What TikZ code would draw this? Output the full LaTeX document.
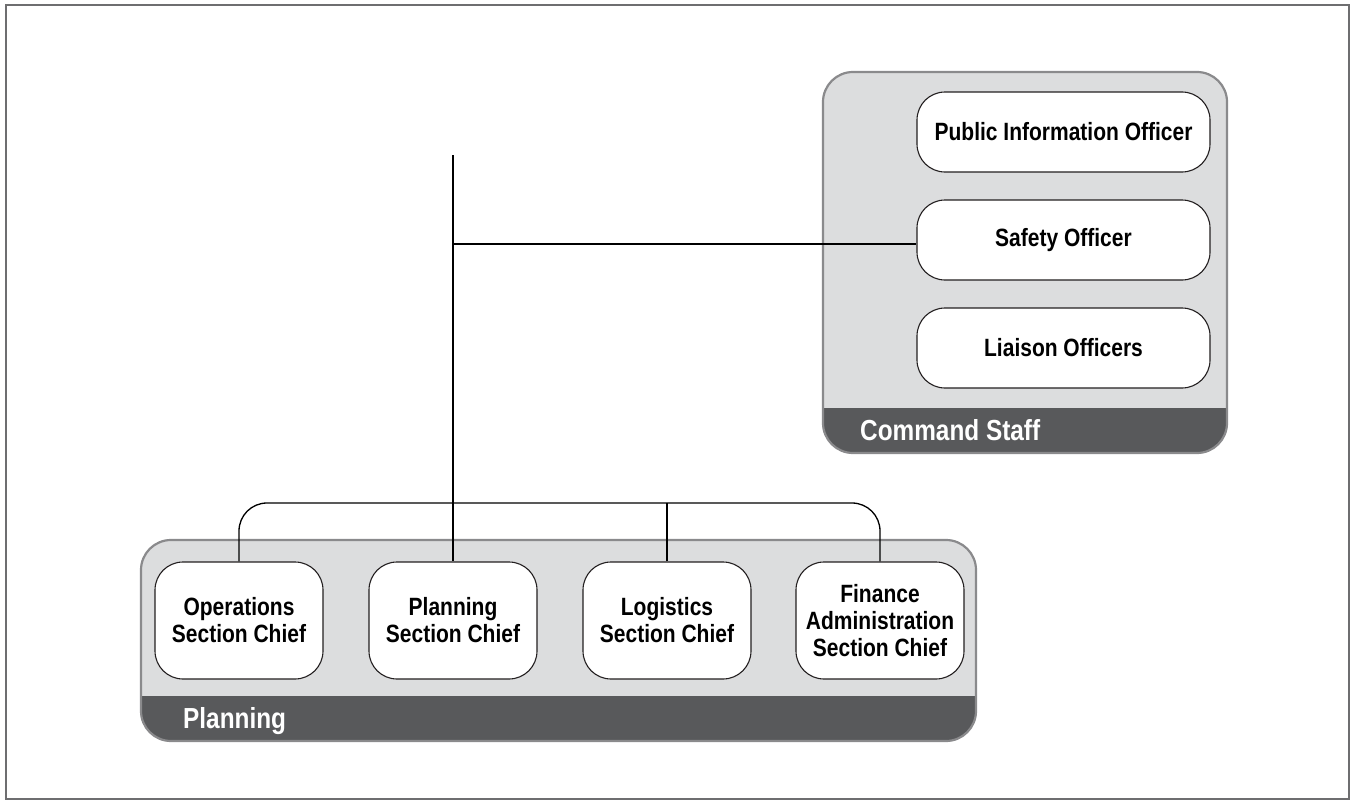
\documentclass[tikz,border=0pt]{standalone}
\usepackage{fontspec}
\setmainfont{Liberation Sans}[FakeStretch=0.84]
\begin{document}
\begin{tikzpicture}[x=1pt,y=-1pt,
  wbox/.style={draw=boxedge,fill=white,line width=1.1pt,rounded corners=28,
    align=center,font=\bfseries\fontsize{25}{27}\selectfont,inner sep=0pt},
  chief/.style={wbox,minimum width=168,minimum height=117},
  officer/.style={wbox,minimum width=293,minimum height=80},
  grouplabel/.style={text=white,font=\bfseries\fontsize{29}{30}\selectfont,anchor=base west,inner sep=0pt},
  groupedge/.style={draw=grpedge,line width=2.2pt,rounded corners=30},
  conn/.style={line width=1.3pt,draw=black}]
\definecolor{grpfill}{HTML}{DCDDDE}
\definecolor{grpedge}{HTML}{8A8A8C}
\definecolor{band}{HTML}{58595B}
\definecolor{boxedge}{HTML}{231F20}
\useasboundingbox (0,0) rectangle (1350,800);
\draw[draw=grpedge!80!black,line width=2pt] (6,5) rectangle (1349,799);
% Command staff group
\begin{scope}
  \clip[rounded corners=30] (823,72) rectangle (1227,453);
  \fill[grpfill] (823,72) rectangle (1227,453);
  \fill[band] (823,408) rectangle (1227,453);
\end{scope}
\draw[groupedge] (823,72) rectangle (1227,453);
\node[grouplabel] (cslabel) at (860,440) {Command Staff};
% Planning group
\begin{scope}
  \clip[rounded corners=30] (141,540) rectangle (976,741);
  \fill[grpfill] (141,540) rectangle (976,741);
  \fill[band] (141,696) rectangle (976,741);
\end{scope}
\draw[groupedge] (141,540) rectangle (976,741);
\node[grouplabel] (pllabel) at (183,728) {Planning};
% officers
\node[officer] (pio) at (1063.5,132) {Public Information Officer};
\node[officer] (safety) at (1063.5,240) {Safety Officer};
\node[officer] (liaison) at (1063.5,348) {Liaison Officers};
% chiefs
\node[chief] (ops) at (239,620.5) {Operations\\Section Chief};
\node[chief] (plan) at (453,620.5) {Planning\\Section Chief};
\node[chief] (log) at (667,620.5) {Logistics\\Section Chief};
\node[chief] (fin) at (880,620.5) {Finance\\Administration\\Section Chief};
% connectors
\coordinate (top) at (453,155);
\coordinate (junc) at (453,244);
\coordinate (busL) at (239,503);
\coordinate (busR) at (880,503);
\draw[conn] (top) -- (plan.north);
\draw[conn] (junc) -- (junc -| safety.west);
\draw[conn,rounded corners=28] (ops.north) -- (busL) -- (busR) -- (fin.north);
\draw[conn] (log.north) -- (log.north |- busL);
\end{tikzpicture}
\end{document}
